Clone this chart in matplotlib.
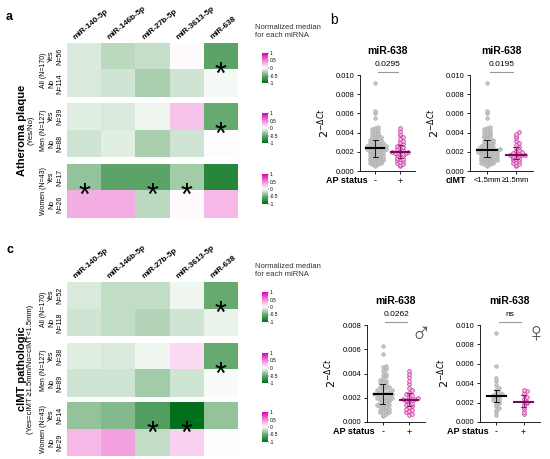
import numpy as np
import matplotlib
matplotlib.use("Agg")
import matplotlib.pyplot as plt
from matplotlib.colors import LinearSegmentedColormap

plt.rcParams['font.family'] = ['Liberation Sans', 'DejaVu Sans']

mirnas = ["miR-140-5p", "miR-146b-5p", "miR-27b-5p", "miR-3613-5p", "miR-638"]

# panel a heatmaps (rows: Yes, No)
a_all = [[-0.12, -0.22, -0.18, 0.02, -0.55], [-0.12, -0.15, -0.28, -0.15, -0.03]]
a_men = [[-0.10, -0.12, -0.05, 0.25, -0.50], [-0.15, -0.10, -0.28, -0.15, 0.01]]
a_wom = [[-0.35, -0.55, -0.55, -0.30, -0.80], [0.35, 0.35, -0.22, 0.02, 0.30]]
a_n = [("All (N=170)", "N=56", "N=114"), ("Men (N=127)", "N=39", "N=88"), ("Women (N=43)", "N=17", "N=26")]
a_stars = [[4], [4], [0, 2, 3]]
# panel c heatmaps
c_all = [[-0.12, -0.20, -0.20, -0.05, -0.50], [-0.15, -0.20, -0.25, -0.15, -0.07]]
c_men = [[-0.10, -0.12, -0.05, 0.15, -0.50], [-0.15, -0.15, -0.30, -0.15, -0.02]]
c_wom = [[-0.35, -0.40, -0.60, -1.00, -0.35], [0.30, 0.40, -0.20, 0.20, 0.00]]
c_n = [("All (N=170)", "N=52", "N=118"), ("Men (N=127)", "N=38", "N=89"), ("Women (N=43)", "N=14", "N=29")]
c_stars = [[4], [4], [2, 3]]

# scatter data (2^-dCt)
b1_neg = [0.0092, 0.0063, 0.0060, 0.0055, 0.0046, 0.0045, 0.0044, 0.0043, 0.0042, 0.0041, 0.0040, 0.0039,
          0.0038, 0.0037, 0.0036, 0.0035, 0.0035, 0.0034, 0.0033, 0.0032, 0.0032, 0.0031, 0.0030, 0.0030,
          0.0029, 0.0029, 0.0028, 0.0028, 0.0027, 0.0027, 0.0026, 0.0026, 0.0025, 0.0025, 0.0025, 0.0024,
          0.0024, 0.0024, 0.0023, 0.0023, 0.0023, 0.0022, 0.0022, 0.0021, 0.0021, 0.0021, 0.0020, 0.0020,
          0.0019, 0.0019, 0.0018, 0.0018, 0.0017, 0.0017, 0.0016, 0.0016, 0.0015, 0.0015, 0.0014, 0.0014,
          0.0013, 0.0013, 0.0012, 0.0012, 0.0011, 0.0011, 0.0010, 0.0010, 0.0009, 0.0009, 0.0008, 0.0008,
          0.0007, 0.0007, 0.0006, 0.0005]
b1_pos = [0.0045, 0.0042, 0.0039, 0.0037, 0.0035, 0.0033, 0.0031, 0.0030, 0.0028, 0.0027, 0.0026, 0.0025,
          0.0024, 0.0023, 0.0022, 0.0021, 0.0020, 0.0020, 0.0019, 0.0019, 0.0019, 0.0018, 0.0018, 0.0017,
          0.0016, 0.0015, 0.0014, 0.0013, 0.0012, 0.0011, 0.0010, 0.0009, 0.0008, 0.0007, 0.0006, 0.0005]
b2_neg = [0.0092, 0.0063, 0.0060, 0.0055, 0.0046, 0.0045, 0.0044, 0.0043, 0.0042, 0.0041, 0.0040, 0.0039,
          0.0038, 0.0037, 0.0036, 0.0035, 0.0034, 0.0033, 0.0032, 0.0031, 0.0030, 0.0030, 0.0029, 0.0028,
          0.0027, 0.0027, 0.0026, 0.0025, 0.0025, 0.0024, 0.0024, 0.0023, 0.0023, 0.0022, 0.0022, 0.0022,
          0.0021, 0.0021, 0.0021, 0.0020, 0.0020, 0.0020, 0.0019, 0.0019, 0.0018, 0.0018, 0.0017, 0.0017,
          0.0016, 0.0016, 0.0015, 0.0015, 0.0014, 0.0014, 0.0013, 0.0013, 0.0012, 0.0012, 0.0011, 0.0011,
          0.0010, 0.0010, 0.0009, 0.0009, 0.0008, 0.0008, 0.0007, 0.0007, 0.0006, 0.0005]
b2_pos = [0.0041, 0.0039, 0.0036, 0.0034, 0.0031, 0.0029, 0.0027, 0.0025, 0.0024, 0.0022, 0.0021, 0.0020,
          0.0019, 0.0018, 0.0018, 0.0017, 0.0017, 0.0017, 0.0016, 0.0016, 0.0015, 0.0014, 0.0013, 0.0012,
          0.0011, 0.0010, 0.0009, 0.0008, 0.0007, 0.0006, 0.0005]
c1_neg = [0.0063, 0.0056, 0.0046, 0.0045, 0.0044, 0.0042, 0.0040, 0.0039, 0.0038, 0.0036, 0.0035, 0.0034,
          0.0033, 0.0032, 0.0031, 0.0030, 0.0029, 0.0029, 0.0028, 0.0027, 0.0026, 0.0026, 0.0025, 0.0025,
          0.0024, 0.0024, 0.0023, 0.0023, 0.0023, 0.0022, 0.0022, 0.0021, 0.0021, 0.0020, 0.0020, 0.0019,
          0.0019, 0.0018, 0.0018, 0.0017, 0.0016, 0.0016, 0.0015, 0.0014, 0.0014, 0.0013, 0.0012, 0.0012,
          0.0011, 0.0010, 0.0010, 0.0009, 0.0008, 0.0008, 0.0007, 0.0006, 0.0005]
c1_pos = [0.0042, 0.0040, 0.0037, 0.0034, 0.0031, 0.0028, 0.0026, 0.0024, 0.0023, 0.0022, 0.0021, 0.0020,
          0.0019, 0.0019, 0.0018, 0.0018, 0.0018, 0.0017, 0.0016, 0.0015, 0.0014, 0.0013, 0.0012, 0.0011,
          0.0010, 0.0009, 0.0008, 0.0007, 0.0006]
c2_neg = [0.0092, 0.0058, 0.0045, 0.0042, 0.0038, 0.0035, 0.0033, 0.0031, 0.0030, 0.0029, 0.0028, 0.0027,
          0.0027, 0.0026, 0.0025, 0.0024, 0.0023, 0.0022, 0.0021, 0.0020, 0.0018, 0.0016, 0.0014, 0.0012,
          0.0010, 0.0007]
c2_pos = [0.0033, 0.0032, 0.0030, 0.0028, 0.0026, 0.0024, 0.0021, 0.0021, 0.0020, 0.0018, 0.0015, 0.0013,
          0.0010, 0.0008]

W, H = 550, 459
fig = plt.figure(figsize=(W / 100, H / 100), dpi=100)
fig.patch.set_facecolor("white")


def px(x0, y0, x1, y1):
    return [x0 / W, 1 - y1 / H, (x1 - x0) / W, (y1 - y0) / H]


cmap = LinearSegmentedColormap.from_list("pg", ["#00701a", "#66aa70", "#ffffff", "#f08ad8", "#e000b8"])


def heat(vals, box, stars, labels, top_labels):
    ax = fig.add_axes(px(*box))
    ax.imshow(np.array(vals), cmap=cmap, vmin=-1, vmax=1, aspect="auto")
    ax.set_xticks([]); ax.set_yticks([])
    for s in ax.spines.values():
        s.set_visible(False)
    for c in stars:
        ax.text(c, 0.72, "*", ha="center", va="center", fontsize=22)
    ax.text(-0.82, 0, "Yes\n" + labels[1], rotation=90, ha="center", va="center", fontsize=5, linespacing=1.3)
    ax.text(-0.82, 1, "No\n" + labels[2], rotation=90, ha="center", va="center", fontsize=5, linespacing=1.3)
    ax.text(-1.2, 0.5, labels[0], rotation=90, ha="center", va="center", fontsize=5)
    if top_labels:
        for i, m in enumerate(mirnas):
            ax.text(i - 0.35, -0.58, m, rotation=40, ha="left", va="bottom", fontsize=5.8, fontweight="bold")
    return ax


def cbar(box):
    ax = fig.add_axes(px(*box))
    g = np.linspace(1, -1, 50)[:, None]
    ax.imshow(g, cmap=cmap, vmin=-1, vmax=1, aspect="auto", extent=[0, 1, -1, 1])
    ax.set_xticks([])
    ax.yaxis.tick_right()
    ax.set_yticks([1, 0.5, 0, -0.5, -1])
    ax.set_yticklabels(["1", "0.5", "0", "-0.5", "-1"], fontsize=3.5)
    ax.tick_params(length=1, width=0.3, pad=0.5)
    for s in ax.spines.values():
        s.set_visible(False)


def panel_heat(y0s, datas, ns, stars, title1, title2, letter, ly, cb_y):
    for k in range(3):
        heat(datas[k], (67, y0s[k], 238, y0s[k] + 54), stars[k], ns[k], k == 0)
        cbar((262, y0s[k] + cb_y, 268, y0s[k] + cb_y + 30))
    fig.text(255 / W, 1 - (y0s[0] - 4) / H, "Normalized median\nfor each miRNA", fontsize=5.5,
             ha="left", va="bottom", color="#333333")
    yc = 1 - ((y0s[0] + y0s[2] + 54) / 2) / H
    fig.text(22 / W, yc, title1, rotation=90, ha="center", va="center", fontsize=8, fontweight="bold")
    fig.text(31 / W, yc, title2, rotation=90, ha="center", va="center", fontsize=5.5)
    fig.text(6 / W, 1 - ly / H, letter, fontsize=9, fontweight="bold", va="center")


panel_heat([43, 103, 164], [a_all, a_men, a_wom], a_n, a_stars, "Atheroma plaque", "(Yes/No)", "a", 17, 10)
panel_heat([282, 343, 402], [c_all, c_men, c_wom], c_n, c_stars, "cIMT pathologic",
           "(Yes=cIMT \u22651.5mm/No=cIMT<1.5mm)", "c", 250, 10)
fig.text(330 / W, 1 - 20 / H, "b", fontsize=10, va="center")


def swarm(vals, center, h=0.0003, d=0.11):
    v = np.sort(np.array(vals))
    xs = []
    bins = np.floor(v / h)
    cnt = {}
    for b in bins:
        k = cnt.get(b, 0)
        cnt[b] = k + 1
        off = ((k + 1) // 2) * d * (1 if k % 2 else -1)
        xs.append(center + off)
    return np.array(xs), v


def scat(box, neg, pos, ymax, ystep, p, xlab, ticklabs, symbol=None):
    ax = fig.add_axes(px(*box))
    x, v = swarm(neg, 0)
    ax.scatter(x, v, s=7, color="#c4c4c4", edgecolor="#aaaaaa", linewidth=0.4, zorder=2)
    x, v = swarm(pos, 1)
    ax.scatter(x, v, s=7, facecolor="#f3bce6", edgecolor="#c8309a", linewidth=0.5, zorder=2)
    for i, (d, col) in enumerate([(neg, "black"), (pos, "#7a0a60")]):
        m = np.median(d)
        q1, q3 = np.percentile(d, [25, 75])
        ax.plot([i - 0.35, i + 0.35], [m, m], color=col, lw=1.5, zorder=3)
        ax.plot([i, i], [q1, q3], color=col, lw=0.6, zorder=3)
        ax.plot([i - 0.1, i + 0.1], [q1, q1], color=col, lw=0.6, zorder=3)
        ax.plot([i - 0.1, i + 0.1], [q3, q3], color=col, lw=0.6, zorder=3)
    ax.set_xlim(-0.6, 1.6)
    ax.set_ylim(0, ymax)
    ax.set_yticks(np.arange(0, ymax + 1e-9, ystep))
    ax.set_yticklabels([f"{t:.3f}" for t in np.arange(0, ymax + 1e-9, ystep)], fontsize=5.5)
    ax.set_xticks([0, 1])
    ax.set_xticklabels(ticklabs, fontsize=6.5 if ticklabs[0] == "-" else 5.5)
    ax.tick_params(width=0.6, length=2, pad=2)
    for s in ["top", "right"]:
        ax.spines[s].set_visible(False)
    ax.spines["left"].set_linewidth(0.6)
    ax.spines["bottom"].set_linewidth(0.6)
    ax.set_ylabel(r"$2^{-\Delta Ct}$", fontsize=8, labelpad=3)
    ax.plot([0.1, 0.9], [ymax * 1.03] * 2, color="#999999", lw=0.8, clip_on=False)
    ax.text(0.5, ymax * 1.07, p, ha="center", va="bottom", fontsize=6)
    ax.text(0.5, ymax * 1.2, "miR-638", ha="center", va="bottom", fontsize=7.5, fontweight="bold")
    xl = -0.3 if ticklabs[0] == "-" else -0.75
    ax.text(xl, -0.1, xlab, transform=ax.get_xaxis_transform(), ha="right", va="center",
            fontsize=6.5, fontweight="bold")
    if symbol:
        ax.text(1.45, ymax * 0.9, symbol, ha="center", va="center", fontsize=20, color="#555555")
    return ax


scat((360, 75, 415, 171), b1_neg, b1_pos, 0.010, 0.002, "0.0295", "AP status", ["-", "+"])
scat((470, 75, 533, 171), b2_neg, b2_pos, 0.010, 0.002, "0.0195", "cIMT", ["<1.5mm", "\u22651.5mm"])
scat((367, 325, 425, 422), c1_neg, c1_pos, 0.008, 0.002, "0.0262", "AP status", ["-", "+"], "\u2642")
scat((480, 325, 540, 422), c2_neg, c2_pos, 0.010, 0.002, "ns", "AP status", ["-", "+"], "\u2640")

fig.savefig("out.png", dpi=100)
